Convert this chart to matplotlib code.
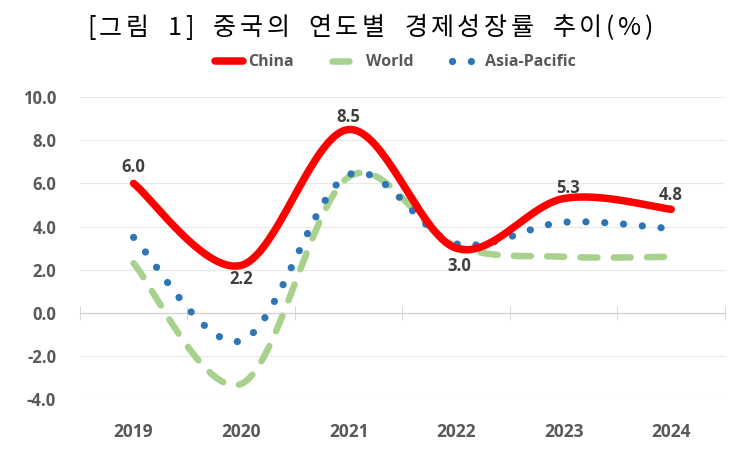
import numpy as np
import matplotlib.pyplot as plt
from matplotlib.lines import Line2D

years = ['2019', '2020', '2021', '2022', '2023', '2024']
china = [6.0, 2.2, 8.5, 3.0, 5.3, 4.8]
world = [2.3, -3.3, 6.3, 3.1, 2.6, 2.6]
asia = [3.5, -1.3, 6.4, 3.2, 4.2, 3.9]
yticks = [-4.0, -2.0, 0.0, 2.0, 4.0, 6.0, 8.0, 10.0]
title = '[그림 1] 중국의 연도별 경제성장률 추이(%)'

plt.rcParams['font.family'] = ['Open Sans', 'DejaVu Sans']

RED = '#FF0000'
GREEN = '#A9D18E'
BLUE = '#2E75B6'
GRAY = '#595959'


def smooth(vals, n=40):
    # excel-like smoothed line (catmull-rom bezier)
    p = np.column_stack([np.arange(len(vals)), vals]).astype(float)
    pts = []
    for i in range(len(p) - 1):
        p0 = p[i - 1] if i > 0 else p[i]
        p1, p2 = p[i], p[i + 1]
        p3 = p[i + 2] if i + 2 < len(p) else p[i + 1]
        c1 = p1 + (p2 - p0) / 6
        c2 = p2 - (p3 - p1) / 6
        t = np.linspace(0, 1, n)[:, None]
        seg = (1 - t) ** 3 * p1 + 3 * (1 - t) ** 2 * t * c1 + 3 * (1 - t) * t ** 2 * c2 + t ** 3 * p2
        pts.append(seg if i == 0 else seg[1:])
    pts = np.vstack(pts)
    return pts[:, 0], pts[:, 1]


def spaced_text(fig, s, xc, yc, gap, space, **kw):
    # draw text with extra letter spacing (pixels), centred on xc (pixels)
    r = fig.canvas.get_renderer()
    W = fig.bbox.width
    widths = []
    for ch in s:
        if ch == ' ':
            widths.append(space)
            continue
        t = fig.text(0, 0, ch, **kw)
        widths.append(t.get_window_extent(r).width)
        t.remove()
    total = sum(widths) + gap * (len(s) - 1)
    x = xc - total / 2
    for ch, w in zip(s, widths):
        if ch != ' ':
            fig.text(x / W, yc, ch, ha='left', va='baseline', **kw)
        x += w + gap


fig = plt.figure(figsize=(7.39, 4.74), dpi=100)
ax = fig.add_axes([0.108, 0.158, 0.873, 0.637])

LW_W, LW_A, LW_C = 4.7, 5.2, 5.4
ls_w = (0, (2.6, 2.5))
ls_a = (0, (0.01, 2.6))

x, y = smooth(world)
ax.plot(x, y, color=GREEN, lw=LW_W, linestyle=ls_w, dash_capstyle='round', zorder=2)
x, y = smooth(asia)
ax.plot(x, y, color=BLUE, lw=LW_A, linestyle=ls_a, dash_capstyle='round', zorder=3)
x, y = smooth(china)
ax.plot(x, y, color=RED, lw=LW_C, solid_capstyle='round', zorder=4)

# data labels
offs = [(0, 11.5), (0, -10), (0, 9), (2, -13), (3, 7.5), (0, 10)]
for i, v in enumerate(china):
    ax.annotate(f'{v:.1f}', (i, v), xytext=offs[i], textcoords='offset points',
                ha='center', va='center', fontsize=12, fontweight='bold', color='#404040')

ax.set_xlim(-0.5, len(years) - 0.5)
ax.set_ylim(-4, 10)
ax.set_yticks(yticks)
ax.set_yticklabels([f'{v:.1f}' for v in yticks], fontsize=12, fontweight='bold', color=GRAY)
ax.tick_params(axis='y', length=0, pad=17)
ax.grid(axis='y', color='#E8E8E8', lw=0.8)
ax.set_axisbelow(True)
for s in ['top', 'right', 'left']:
    ax.spines[s].set_visible(False)

# zero axis with category boundary ticks
ax.spines['bottom'].set_position(('data', 0))
ax.spines['bottom'].set_color('#D0D0D0')
ax.set_xticks(np.arange(-0.5, len(years)), minor=True)
ax.set_xticks([])
ax.tick_params(axis='x', which='minor', direction='inout', length=10, color='#D0D0D0')

sec = ax.secondary_xaxis(0)
sec.set_xticks(range(len(years)))
sec.set_xticklabels(years, fontsize=12.5, fontweight='bold', color=GRAY)
sec.tick_params(length=0, pad=17)
sec.spines['bottom'].set_visible(False)

handles = [
    Line2D([], [], color=RED, lw=LW_C, solid_capstyle='round'),
    Line2D([], [], color=GREEN, lw=LW_W, linestyle=ls_w, dash_capstyle='round'),
    Line2D([], [], color=BLUE, lw=LW_A, linestyle=ls_a, dash_capstyle='round'),
]
leg = fig.legend(handles, ['China', 'World', 'Asia-Pacific'], loc='center',
                 bbox_to_anchor=(0.535, 0.869), ncol=3, frameon=False,
                 handlelength=1.8, columnspacing=2.4, handletextpad=0.3,
                 prop={'size': 11.5, 'weight': 'bold'})
for t in leg.get_texts():
    t.set_color(GRAY)

spaced_text(fig, title, 370, 1 - 35 / 474, 3.6, 12, fontsize=18,
            family=['Noto Sans CJK KR', 'DejaVu Sans'], color='black')

fig.savefig('out.png', dpi=100)
